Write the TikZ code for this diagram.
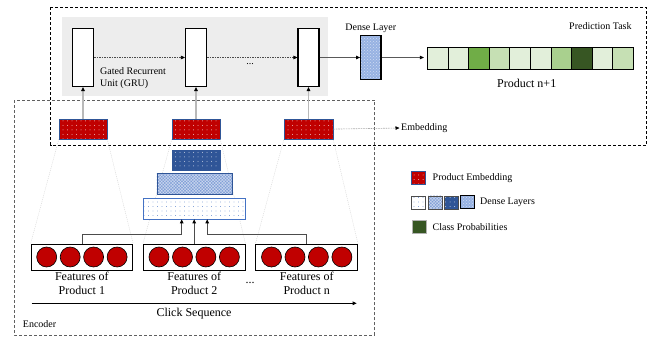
\documentclass[tikz,border=0pt]{standalone}
\usepackage{fontspec}
\setmainfont{Liberation Serif}
\usetikzlibrary{arrows.meta,patterns,patterns.meta}
\definecolor{embred}{HTML}{C00000}
\definecolor{dkblue}{HTML}{2F5597}
\definecolor{mdblue}{HTML}{7F9ED6}
\definecolor{ltblue}{HTML}{4472C4}
\definecolor{dlblue}{HTML}{97B2E2}
\definecolor{g1c}{HTML}{E2EFDA}
\definecolor{g2c}{HTML}{C6E0B4}
\definecolor{g3c}{HTML}{A9D08E}
\definecolor{g4c}{HTML}{70AD47}
\definecolor{g5c}{HTML}{375623}
\definecolor{grubg}{HTML}{EDEDED}
\begin{document}
\begin{tikzpicture}[x=1pt,y=-1pt,
  tipb/.style={-{Triangle[length=4pt,width=3.5pt,color=black]}},
  grucell/.style={draw=black,line width=1.1pt,fill=white,minimum width=21pt,minimum height=58pt,inner sep=0pt},
  embbox/.style={draw=dkblue,line width=0.5pt,preaction={fill=embred},pattern={Dots[radius=0.5pt,distance=4.5pt]},pattern color=white!75!embred,minimum height=20pt,inner sep=0pt},
  dtop/.style={draw=dkblue,line width=0.4pt,preaction={fill=dkblue},pattern={Dots[radius=0.5pt,distance=4.5pt]},pattern color=white!70!dkblue,inner sep=0pt},
  dmid/.style={draw=dkblue,line width=0.4pt,preaction={fill=mdblue},pattern={Hatch[angle=45,distance=2.2pt,line width=0.5pt]},pattern color=white!60!mdblue,inner sep=0pt},
  dlow/.style={draw=ltblue,line width=0.6pt,preaction={fill=white},pattern={Dots[radius=0.45pt,distance=4.5pt]},pattern color=ltblue,inner sep=0pt},
  dright/.style={draw=black,line width=1.1pt,preaction={fill=dlblue},pattern=crosshatch dots,pattern color=white!55!dlblue,inner sep=0pt},
  featbox/.style={draw=black,line width=0.8pt,fill=white,minimum width=101.7pt,minimum height=26pt,inner sep=0pt},
  feat/.style={circle,draw=black,line width=0.6pt,fill=embred,minimum size=20pt,inner sep=0pt},
  bigl/.style={font=\fontsize{12}{14}\selectfont,align=center,inner sep=0pt},
  smalll/.style={font=\fontsize{10}{12.5}\selectfont,inner sep=0pt},
  cell/.style={draw=black,line width=0.8pt,minimum width=20.6pt,minimum height=22.3pt,inner sep=0pt},
  legsq/.style={minimum width=14pt,minimum height=13pt,inner sep=0pt},
  fan/.style={draw=gray!35,line width=0.4pt,dash pattern=on 1pt off 1pt}
]
\useasboundingbox (0,0) rectangle (656,337);

% frames
\draw[line width=0.9pt,dash pattern=on 3pt off 2pt] (50.7,7.3) rectangle (646.7,145);
\draw[gray!75!black,line width=1pt,dash pattern=on 3pt off 2pt] (14,100) rectangle (374.3,335);
\fill[grubg] (62,17) rectangle (328,96);

% GRU cells
\node[grucell] (g1) at (83,57.5) {};
\node[grucell] (g2) at (196,57.5) {};
\node[grucell] (g3) at (308.5,57.5) {};
\node[smalll,align=left,anchor=north west] (grul) at (100,67) {Gated Recurrent\\Unit (GRU)};
\node[smalll] (gdots) at (250,64) {...};
\draw[tipb,gray!60!black,line width=0.6pt,dash pattern=on 1.5pt off 1pt] (g1) -- (g2);
\draw[tipb,gray!60!black,line width=0.6pt,dash pattern=on 1.5pt off 1pt] (g2) -- (g3);

% embeddings
\node[embbox,minimum width=48pt] (e1) at (83,129) {};
\node[embbox,minimum width=48pt] (e2) at (196,129) {};
\node[embbox,minimum width=49pt] (e3) at (308.5,129.5) {};
\draw[tipb,gray!55,line width=1.2pt] (e1) -- (g1);
\draw[tipb,gray!55,line width=1.2pt] (e2) -- (g2);
\draw[tipb,gray!55,line width=1.2pt] (e3) -- (g3);

% feature boxes
\node[featbox] (f1) at (81.9,257) {};
\node[featbox] (f2) at (194.2,257) {};
\node[featbox] (f3) at (306.7,257) {};
\foreach \b in {1,2,3}{
  \foreach \i/\dx in {1/-35.2,2/-11.7,3/11.7,4/35.2}{
    \node[feat] (c\b\i) at ([xshift=\dx pt]f\b.center) {};
  }
}
\node[bigl,anchor=north] (fl1) at (81.9,272) {Features of\\Product 1};
\node[bigl,anchor=north] (fl2) at (194.2,272) {Features of\\Product 2};
\node[bigl,anchor=north] (fl3) at (306.7,272) {Features of\\Product n};
\node[bigl] (fdots) at (250,283) {...};

% fan lines
\draw[fan] (e1.south west) -- (f1.north west);
\draw[fan] (e1.south east) -- (f1.north east);
\draw[fan] (e2.south west) -- (f2.north west);
\draw[fan] (e2.south east) -- (f2.north east);
\draw[fan] (e3.south west) -- (f3.north west);
\draw[fan] (e3.south east) -- (f3.north east);

% dense stack
\node[dtop,minimum width=48pt,minimum height=20.7pt] (d3) at (196,160.3) {};
\node[dmid,minimum width=75pt,minimum height=21pt] (d2) at (194.2,183.5) {};
\node[dlow,minimum width=101.7pt,minimum height=21pt] (d1) at (194.2,208.5) {};
\draw[tipb,gray!60!black,line width=0.8pt] (f1.north) -- ++(0,-9) -| ([xshift=-12.5pt]d1.south);
\draw[tipb,gray!60!black,line width=0.8pt] (f2.north) -- (d1.south);
\draw[tipb,gray!60!black,line width=0.8pt] (f3.north) -- ++(0,-9) -| ([xshift=13pt]d1.south);

% click sequence
\coordinate (cs0) at (31.7,303.3);
\coordinate (cs1) at (356.7,303.3);
\draw[-{Triangle[length=4pt,width=3.5pt]},line width=0.6pt] (cs0) -- (cs1);
\node[bigl] (csl) at (194,314) {Click Sequence};
\node[smalll,anchor=west] (encl) at (22.7,324) {Encoder};

% prediction part
\node[dright,minimum width=20.3pt,minimum height=43.3pt] (dl) at (370.8,57.5) {};
\node[smalll] (dll) at (370.8,28) {Dense Layer};
\draw[tipb,gray!70!black,line width=0.8pt] (g3) -- (dl);
\foreach \i/\c in {1/g1c,2/g1c,3/g4c,4/g2c,5/g1c,6/g1c,7/g3c,8/g5c,9/g1c,10/g2c}{
  \node[cell,fill=\c] (p\i) at (437.6+20.6*\i-20.6,58.5) {};
}
\draw[tipb,gray!70!black,line width=0.8pt,shorten >=3pt] (dl.east) -- (dl.east -| p1.west);
\node[bigl] (pl) at (526.7,83) {Product n+1};
\node[smalll] (ptl) at (600.4,26) {Prediction Task};
\node[smalll,anchor=west] (embl) at (401,128) {Embedding};
\draw[tipb,gray!70,line width=0.6pt,dash pattern=on 1.5pt off 1pt,shorten >=1.5pt] (e3) -- (embl.west);

% legend
\node[legsq,draw=gray!60,embbox,minimum width=14pt,minimum height=13pt] (lg1) at (418.7,177.5) {};
\node[smalll,anchor=west] (lt1) at (432.5,178) {Product Embedding};
\node[legsq,dlow,draw=black!70] (lg2) at (418.7,202.3) {};
\node[legsq,dmid,draw=black!70] (lg3) at (435,202.3) {};
\node[legsq,dtop,draw=black!70] (lg4) at (451,202.3) {};
\node[legsq,dright,line width=0.8pt] (lg5) at (467,202.3) {};
\node[smalll,anchor=west] (lt2) at (480,202.7) {Dense Layers};
\node[legsq,draw=gray!60,fill=g5c] (lg6) at (418.7,227) {};
\node[smalll,anchor=west] (lt3) at (432.5,227) {Class Probabilities};
\end{tikzpicture}
\end{document}
